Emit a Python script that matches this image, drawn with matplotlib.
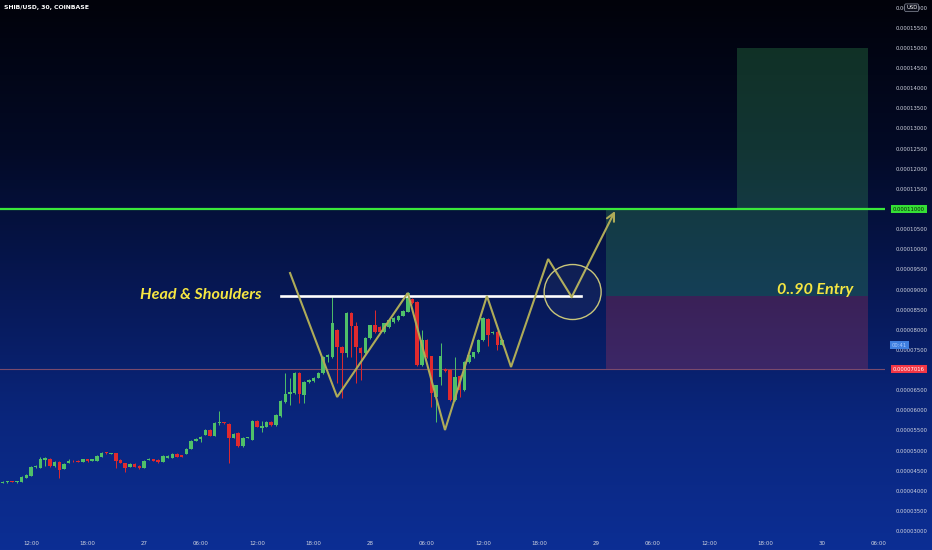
import numpy as np
import matplotlib
matplotlib.use("Agg")
import matplotlib.pyplot as plt
from matplotlib.patches import Rectangle, Ellipse

# ---------------- data (prices in units of 1e-8 USD) ----------------
SCALE = 1e-8
start_hour = 9.0          # first candle: 26th 09:00 (hours counted from the 26th 00:00)
interval_hours = 0.5      # 30-minute candles

candle_open = [4200, 4220, 4240, 4215, 4220, 4320, 4370, 4580, 4568, 4767,
               4791, 4618, 4717, 4543, 4692, 4750, 4745, 4717, 4780, 4742,
               4742, 4841, 4950, 4916, 4930, 4767, 4692, 4593, 4667, 4618,
               4568, 4767, 4791, 4767, 4717, 4816, 4816, 4916, 4891, 4916,
               5040, 5238, 5288, 5387, 5511, 5362, 5685, 5710, 5660, 5313,
               5437, 5114, 5313, 5263, 5734, 5561, 5586, 5710, 5635, 5858,
               6207, 6405, 6430, 6926, 6380, 6703, 6728, 6802, 6926, 7324,
               7324, 7995, 7572, 7423, 8417, 8094, 7548, 7423, 7796, 8119,
               8069, 7945, 8069, 8193, 8243, 8342, 8441, 8765, 8690, 7125,
               7746, 7349, 6330, 6827, 7026, 7001, 6256, 6852, 6504, 7200,
               7324, 7448, 7746, 8268, 7920, 7945, 7622]
candle_high = [4240, 4250, 4250, 4250, 4360, 4410, 4610, 4630, 4841, 4841,
               4810, 4730, 4730, 4680, 4791, 4760, 4760, 4800, 4795, 4800,
               4880, 4955, 4960, 4950, 4950, 4780, 4700, 4680, 4680, 4630,
               4755, 4820, 4800, 4780, 4880, 4880, 4930, 4930, 4900, 5055,
               5250, 5300, 5350, 5530, 5530, 5700, 5983, 5720, 5690, 5425,
               5450, 5325, 5340, 5750, 5750, 5734, 5725, 5725, 5900, 6250,
               6926, 6800, 6945, 6951, 6720, 6770, 6815, 6940, 7340, 7390,
               8814, 8010, 7590, 8440, 8440, 8200, 7560, 7810, 8130, 8491,
               8085, 8180, 8260, 8310, 8360, 8480, 8930, 8780, 8705, 8000,
               7760, 7360, 6640, 7672, 7040, 7015, 7324, 6870, 7215, 7390,
               7460, 7760, 8310, 8285, 7960, 7960, 7760]
candle_low = [4190, 4205, 4210, 4200, 4210, 4310, 4360, 4570, 4560, 4618,
              4600, 4600, 4320, 4530, 4680, 4720, 4715, 4710, 4725, 4730,
              4735, 4830, 4920, 4905, 4568, 4680, 4469, 4580, 4580, 4545,
              4555, 4755, 4730, 4700, 4705, 4805, 4805, 4830, 4830, 4905,
              5030, 5225, 5220, 5375, 5350, 5350, 5635, 5670, 4692, 5300,
              5100, 5100, 5300, 5250, 5575, 5461, 5575, 5620, 5620, 5845,
              6190, 6130, 6415, 6182, 6180, 6690, 6715, 6790, 6910, 7200,
              7310, 6678, 6306, 7324, 7324, 6678, 6750, 7410, 7780, 7930,
              7920, 7930, 8050, 8180, 8230, 8330, 8430, 8650, 7100, 7110,
              7300, 6082, 5710, 6628, 6960, 6240, 6240, 6330, 6490, 7185,
              7310, 7430, 7730, 7600, 7900, 7500, 7610]
candle_close = [4225, 4235, 4220, 4240, 4345, 4394, 4593, 4610, 4791, 4816,
                4618, 4717, 4518, 4667, 4742, 4730, 4725, 4791, 4735, 4791,
                4866, 4940, 4930, 4935, 4742, 4692, 4568, 4667, 4593, 4568,
                4742, 4791, 4742, 4717, 4866, 4866, 4916, 4841, 4841, 5040,
                5238, 5288, 5337, 5511, 5362, 5685, 5700, 5685, 5313, 5412,
                5114, 5313, 5330, 5734, 5586, 5610, 5710, 5635, 5883, 6231,
                6405, 6455, 6926, 6405, 6703, 6753, 6802, 6926, 7324, 7374,
                8168, 7572, 7423, 8417, 8094, 7572, 7423, 7796, 8119, 7945,
                7945, 8168, 8243, 8292, 8342, 8466, 8914, 8665, 7125, 7746,
                7324, 6430, 6628, 7349, 6976, 6256, 6827, 6504, 7200, 7374,
                7448, 7746, 8292, 7871, 7945, 7622, 7746]

time_tick_hours = [12, 18, 24, 30, 36, 42, 48, 54, 60, 66, 72, 78, 84, 90, 96, 102]
time_tick_labels = ["12:00", "18:00", "27", "06:00", "12:00", "18:00", "28", "06:00",
                    "12:00", "18:00", "29", "06:00", "12:00", "18:00", "30", "06:00"]
price_ticks = [p for p in range(3000, 16001, 500) if p not in (7000, 11000)]

resistance_level = 11000
last_price_level = 7016
entry_level = 8850
target_level = 15000
neckline_level = 8845
neckline_hours = [38.5, 70.4]

zigzag_hours = [39.5, 44.5, 52.0, 55.95, 60.4, 62.96, 66.9, 69.4, 74.0]
zigzag_prices = [9410, 6330, 8914, 5510, 8839, 7075, 9758, 8814, 10950]

circle_center = (69.5, 8938)
circle_size = (6.05, 1366)      # width in hours, height in price units

position_start, position_mid, position_end = 73.0, 87.0, 100.85

x_range = (8.71, 102.66)
y_range = (2927, 16191.6)

# ---------------- figure ----------------
W, H = 932, 550
fig = plt.figure(figsize=(W / 100, H / 100), dpi=100)

# background gradient
stops_y = np.array([0, 150, 300, 420, 550]) / 550
stops_c = np.array([[1, 2, 10], [3, 10, 38], [7, 25, 88], [10, 38, 125], [12, 46, 148]]) / 255
yy = np.linspace(0, 1, 550)
grad = np.stack([np.interp(yy, stops_y, stops_c[:, k]) for k in range(3)], axis=-1)
grad = grad[:, None, :]
bg = fig.add_axes([0, 0, 1, 1], zorder=-10)
bg.imshow(grad, aspect="auto", extent=[0, 1, 0, 1], origin="upper")
bg.axis("off")

ax = fig.add_axes([0, 16 / H, 885 / W, 534 / H], zorder=1)
ax.set_facecolor("none")
for s in ax.spines.values():
    s.set_visible(False)
ax.set_xlim(*x_range)
ax.set_ylim(y_range[0] * SCALE, y_range[1] * SCALE)

# candles
o = np.array(candle_open) * SCALE
h = np.array(candle_high) * SCALE
l = np.array(candle_low) * SCALE
c = np.array(candle_close) * SCALE
x = start_hour + interval_hours * np.arange(len(o))
up = c >= o
green, red = "#4fc069", "#e02a2e"
cols = np.where(up, green, red)
ax.vlines(x, l, h, colors=cols, lw=0.7, zorder=3)
body_h = np.maximum(np.abs(c - o), 22 * SCALE)
ax.bar(x, body_h, bottom=np.minimum(o, c), width=0.37, color=cols, lw=0, zorder=4)

# horizontal levels
ax.axhline(resistance_level * SCALE, color="#3ae83a", lw=1.6, zorder=5)
ax.axhline(last_price_level * SCALE, color="#7a4a6c", lw=0.8, zorder=2)
ax.plot(neckline_hours, [neckline_level * SCALE] * 2, color="white", lw=1.9, zorder=6)

# position tool boxes
ax.add_patch(Rectangle((position_start, entry_level * SCALE), position_end - position_start,
                       (resistance_level - entry_level) * SCALE, facecolor="#3aa65a", alpha=0.28,
                       lw=0, zorder=1))
ax.add_patch(Rectangle((position_mid, resistance_level * SCALE), position_end - position_mid,
                       (target_level - resistance_level) * SCALE, facecolor="#3aa65a", alpha=0.28,
                       lw=0, zorder=1))
ax.add_patch(Rectangle((position_start, last_price_level * SCALE), position_end - position_start,
                       (entry_level - last_price_level) * SCALE, facecolor="#c0395a", alpha=0.28,
                       lw=0, zorder=1))

# zigzag pattern with arrow
zc = "#aeab58"
zx = np.array(zigzag_hours)
zy = np.array(zigzag_prices) * SCALE
ax.plot(zx[:-1], zy[:-1], color=zc, lw=1.5, zorder=7, solid_joinstyle="miter")
ax.annotate("", xy=(zx[-1], zy[-1]), xytext=(zx[-2], zy[-2]),
            arrowprops=dict(arrowstyle="->", color=zc, lw=1.5, mutation_scale=14,
                            shrinkA=0, shrinkB=0), zorder=7)
ax.add_patch(Ellipse((circle_center[0], circle_center[1] * SCALE), circle_size[0],
                     circle_size[1] * SCALE, facecolor=(1, 1, 1, 0.04), edgecolor="#c9c67a",
                     lw=1.0, zorder=7))

# annotations
ax.text(30.05, 8864 * SCALE, "Head & Shoulders", color="#f5e642", fontsize=11.6,
        fontstyle="italic", fontweight="bold", family=["Lato", "DejaVu Sans"],
        ha="center", va="center", zorder=8)
ax.text(95.2, 8990 * SCALE, "0..90 Entry", color="#f5e642", fontsize=11.6,
        fontstyle="italic", fontweight="bold", family=["Lato", "DejaVu Sans"],
        ha="center", va="center", zorder=8)

# axes ticks
ax.yaxis.tick_right()
ax.set_yticks([p * SCALE for p in price_ticks])
ax.set_yticklabels([f"{p * SCALE:.8f}" for p in price_ticks])
ax.tick_params(axis="y", length=0, pad=7.5, labelsize=3.8, labelcolor="#d0d4e0")
ax.set_xticks(time_tick_hours)
ax.set_xticklabels(time_tick_labels)
ax.tick_params(axis="x", length=0, pad=5, labelsize=4.0, labelcolor="#d0d4e0")

ytr = ax.get_yaxis_transform()
ax.text(1.0 + 8 / 885, resistance_level * SCALE, f"{resistance_level * SCALE:.8f}",
        transform=ytr, fontsize=3.8, color="#0a1a0a", ha="left", va="center",
        bbox=dict(boxstyle="square,pad=0.3", fc="#35e035", ec="none"), clip_on=False)
ax.text(1.0 + 8 / 885, last_price_level * SCALE, f"{last_price_level * SCALE:.8f}",
        transform=ytr, fontsize=3.8, color="white", ha="left", va="center",
        bbox=dict(boxstyle="square,pad=0.3", fc="#f23645", ec="none"), clip_on=False)
ax.text(1.0 + 7 / 885, 7620 * SCALE, "00:41", transform=ytr, fontsize=3.8,
        color="#a9c9ff", ha="left", va="center",
        bbox=dict(boxstyle="square,pad=0.3", fc="#3f7fe0", ec="none"), clip_on=False)
ax.text(1.0 + 21 / 885, 16000 * SCALE, "USD", transform=ytr, fontsize=3.8,
        color="white", ha="left", va="center",
        bbox=dict(boxstyle="round,pad=0.25", fc="#0a0c18", ec="#8a8f9e", lw=0.5), clip_on=False)

fig.text(4 / W, 1 - 8 / H, "SHIB/USD, 30, COINBASE", color="white", fontsize=4.4,
         fontweight="bold", ha="left", va="center")

fig.savefig("out.png", dpi=100)
